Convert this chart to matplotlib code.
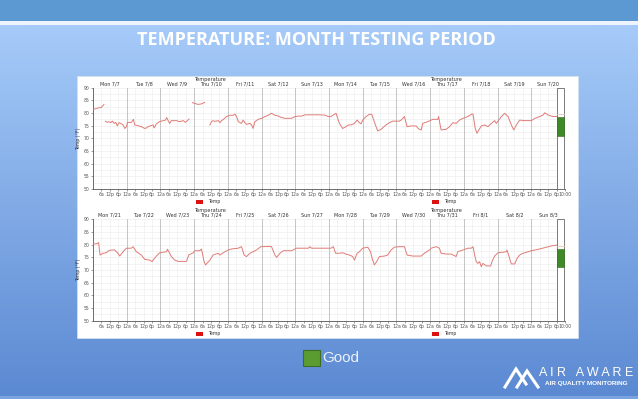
import numpy as np
import matplotlib
matplotlib.use("Agg")
import matplotlib.pyplot as plt
from matplotlib.patches import Rectangle
from matplotlib.lines import Line2D
from matplotlib.transforms import blended_transform_factory

W, H = 638, 399
nan = float("nan")

# ---------------- data ----------------
# hours since Monday 00:00 of first day in each panel; NaN marks a gap in the record
p1_hours = [0.0, 3.6, 5.9, 7.8, nan,
            8.8, 10.2, 11.2, 12.6, 13.8, 15.0, 16.2, 17.3, 18.5, 19.7, 21.4, 22.6, 23.8, 24.5,
            27.3, 28.8, 29.7, 32.1, 34.4, 36.8, 38.0, 39.2, 41.1, 42.8, 43.5, 45.1, 46.3, 47.5,
            49.9, 51.6, 52.5, 53.5, 54.6, 55.8, 59.4, 61.8, 64.2, 65.8, 67.2, 68.4, nan,
            70.8, 72.5, 74.8, 77.2, 79.6, nan,
            83.2, 84.3, 85.5, 86.7, 89.1, 90.3, 91.5, 92.9, 95.0, 97.4, 99.8, 101.0, 102.2,
            103.4, 105.7, 106.9, 108.1, 109.3, 111.7, 112.9, 114.0, 115.2, 117.6, 120.0, 122.4,
            124.7, 127.1, 129.5, 131.9, 134.2, 136.6, 141.4, 143.7, 146.1, 148.5, 150.9, 155.6,
            160.4, 165.1, 167.5, 169.4, 173.0, 175.4, 177.7, 180.1, 181.8, 183.7, 186.1, 188.0,
            189.6, 190.8, 192.0, 194.4, 196.8, 198.4, 201.5, 202.7, 205.1, 208.6, 211.0, 213.4,
            218.1, 219.3, 221.7, 223.6, 226.4, 230.0, 231.7, 233.6, 234.8, 238.3, 240.7, 241.9,
            245.5, 246.0, 247.8, 251.4, 253.8, 256.2, 258.5, 260.9, 263.3, 266.9, 269.3, 270.5,
            272.1, 273.3, 276.4, 278.8, 281.2, 282.4, 285.9, 287.1, 290.7, 293.1, 295.5, 297.8,
            299.5, 301.4, 303.7, 307.3, 312.1, 314.5, 318.0, 320.4, 321.6, 324.0, 327.6, 331.1]
p1_temp = [81.4, 82.0, 82.2, 83.4, nan,
           76.8, 76.3, 76.6, 76.2, 76.8, 75.9, 76.3, 74.9, 76.2, 75.9, 75.3, 73.9, 74.6, 76.3,
           76.3, 77.5, 75.3, 75.0, 74.6, 73.9, 74.1, 74.6, 75.0, 75.3, 74.1, 75.7, 76.2, 76.6,
           77.0, 77.2, 78.2, 77.0, 75.9, 77.0, 77.0, 76.6, 77.0, 76.3, 77.0, 77.6, nan,
           84.1, 83.8, 83.4, 83.6, 84.2, nan,
           75.3, 76.6, 77.0, 76.7, 77.0, 76.2, 77.0, 77.5, 78.6, 79.1, 79.1, 79.6, 78.6,
           76.6, 75.9, 77.2, 76.2, 75.5, 75.9, 75.3, 73.9, 76.6, 77.5, 77.9, 78.6,
           79.1, 79.9, 79.1, 78.8, 78.2, 77.9, 77.9, 78.6, 78.8, 78.8, 79.3, 79.3,
           79.3, 79.2, 78.6, 78.6, 79.9, 75.9, 73.9, 74.6, 75.3, 75.3, 75.9, 77.2,
           76.2, 75.7, 77.2, 78.6, 79.5, 79.5, 74.6, 72.9, 73.6, 75.3, 76.2, 76.8,
           76.8, 77.2, 78.6, 74.6, 74.9, 74.9, 73.8, 73.3, 75.9, 76.6, 77.2, 77.5,
           77.5, 78.6, 73.3, 73.6, 74.6, 76.2, 75.9, 77.2, 77.9, 78.6, 79.5, 79.6,
           73.9, 72.0, 74.9, 75.3, 74.6, 75.3, 77.0, 75.9, 78.6, 79.9, 78.6, 75.3,
           73.3, 75.3, 77.2, 77.0, 77.0, 77.9, 78.6, 79.2, 80.1, 79.2, 78.6, 78.6]

p2_hours = [0.0, 2.4, 4.0, 5.0, 7.1, 9.5, 11.2, 13.1, 15.4, 17.8, 19.0, 21.4, 23.8, 27.3,
            28.5, 30.9, 34.4, 36.8, 40.4, 42.1, 42.8, 45.1, 47.5, 52.3, 53.0, 55.8, 58.2,
            60.6, 66.5, 68.2, 71.3, 72.5, 76.0, 77.2, 79.1, 80.1, 83.2, 85.5, 89.1, 90.3,
            93.9, 96.2, 98.6, 103.4, 105.7, 107.6, 109.3, 111.7, 114.0, 116.4, 119.5, 125.9,
            127.1, 129.5, 130.7, 133.1, 135.4, 141.4, 143.3, 144.9, 153.3, 154.4, 155.6, 169.4,
            171.1, 172.7, 175.4, 177.7, 180.1, 182.5, 184.9, 186.1, 188.0, 189.6, 192.0, 195.6,
            197.5, 199.1, 200.3, 201.9, 203.9, 207.4, 209.8, 212.2, 214.6, 218.1, 221.7, 223.6,
            227.6, 233.6, 235.9, 239.5, 240.7, 244.3, 246.6, 247.8, 251.4, 255.0, 258.5, 259.7,
            263.3, 266.9, 269.3, 270.5, 271.7, 272.8, 274.0, 275.2, 276.4, 277.6, 280.0, 283.1,
            284.0, 285.9, 288.3, 294.2, 294.7, 296.6, 297.8, 300.2, 301.9, 303.7, 306.1, 309.7,
            312.1, 314.5, 318.0, 322.8, 326.4, 331.1]
p2_temp = [80.3, 80.3, 80.8, 75.9, 76.6, 76.8, 77.6, 77.9, 77.9, 76.6, 75.5, 77.2, 78.6, 78.6,
           79.2, 77.2, 75.9, 74.2, 73.9, 73.3, 73.9, 75.5, 76.8, 77.2, 78.2, 75.3, 73.9,
           73.4, 73.4, 75.9, 76.8, 77.6, 77.6, 78.3, 73.3, 72.0, 73.9, 75.9, 76.6, 75.9,
           77.2, 77.9, 78.3, 78.6, 79.2, 75.9, 75.3, 76.6, 77.2, 77.9, 79.2, 79.3,
           79.2, 75.9, 75.0, 76.6, 77.6, 77.6, 78.2, 78.6, 78.6, 79.2, 78.6, 78.6,
           79.2, 76.6, 76.6, 76.8, 76.3, 75.9, 75.3, 73.9, 76.6, 77.2, 78.6, 79.0,
           77.2, 73.9, 72.0, 73.3, 75.3, 75.5, 75.9, 77.9, 79.0, 79.2, 79.2, 75.9,
           75.5, 75.5, 76.6, 77.9, 78.6, 79.2, 78.6, 76.6, 76.3, 76.3, 75.3, 77.2,
           77.9, 78.6, 78.6, 79.2, 75.9, 73.3, 72.6, 73.3, 71.3, 72.6, 71.6, 71.6,
           73.3, 75.5, 76.8, 77.2, 77.9, 74.6, 72.4, 72.4, 74.6, 75.9, 76.6, 77.2,
           77.6, 77.9, 78.3, 79.0, 79.5, 79.9]

p1_days = ["Mon 7/7", "Tue 7/8", "Wed 7/9", "Thu 7/10", "Fri 7/11", "Sat 7/12", "Sun 7/13",
           "Mon 7/14", "Tue 7/15", "Wed 7/16", "Thu 7/17", "Fri 7/18", "Sat 7/19", "Sun 7/20"]
p2_days = ["Mon 7/21", "Tue 7/22", "Wed 7/23", "Thu 7/24", "Fri 7/25", "Sat 7/26", "Sun 7/27",
           "Mon 7/28", "Tue 7/29", "Wed 7/30", "Thu 7/31", "Fri 8/1", "Sat 8/2", "Sun 8/3"]
hour_labels = ["6a", "12p", "6p", "12a"]
end_label = "10:00"
y_ticks = [50, 55, 60, 65, 70, 75, 80, 85, 90]
p1_good = (70.9, 78.5)
p2_good = (71.3, 78.2)

title = "TEMPERATURE: MONTH TESTING PERIOD"
chart_title = "Temperature"
series_name = "Temp"
legend_name = "Good"

# ---------------- figure ----------------
fig = plt.figure(figsize=(W / 100, H / 100), dpi=100)


def fx(x):
    return x / W


def fy(y):
    return 1 - y / H


# slide background
bg = fig.add_axes([0, 0, 1, 1], zorder=-10)
bg.set_xlim(0, W)
bg.set_ylim(H, 0)
bg.axis("off")
top = np.array([0xa6, 0xcb, 0xf9]) / 255
bot = np.array([0x5b, 0x89, 0xd2]) / 255
t = np.linspace(0, 1, 256)[:, None]
grad = top[None, :] * (1 - t) + bot[None, :] * t
bg.imshow(grad[:, None, :], extent=[0, W, H, 25], aspect="auto")
bg.add_patch(Rectangle((0, 0), W, 21, color="#5c98d2", lw=0))
bg.add_patch(Rectangle((0, 21), W, 4, color="#eef4fb", lw=0))
bg.add_patch(Rectangle((0, 396), W, 3, color="#7aa3df", lw=0))
bg.add_patch(Rectangle((77, 76), 501, 262, facecolor="white", edgecolor="#d8e2ee", lw=0.5))

fig.text(fx(316), fy(40), title, color="white", fontsize=13, fontweight="bold",
         family="Open Sans", ha="center", va="center")

# "Good" legend
bg.add_patch(Rectangle((303, 350), 17, 16, facecolor="#5b9c31", edgecolor="#3d6e22", lw=0.8))
fig.text(fx(322), fy(357.5), legend_name, color="#eef2f8", fontsize=11,
         family="Liberation Sans", ha="left", va="center")

# logo
bg.add_line(Line2D([505, 516, 526], [387, 369, 384], color="white", lw=2.2,
                   solid_joinstyle="miter"))
bg.add_line(Line2D([517, 527, 538], [387, 371, 387], color="white", lw=2.2,
                   solid_joinstyle="miter"))
fig.text(fx(586), fy(373.5), "A I R   A W A R E", color="white", fontsize=9,
         family="Liberation Sans", ha="center", va="center")
fig.text(fx(586), fy(383.5), "AIR QUALITY MONITORING", color="white", fontsize=4.6,
         family="Liberation Sans", fontweight="bold", ha="center", va="center")


def draw_panel(y_top, y_bot, hours, temps, days, good, title_y, legend_y):
    ax = fig.add_axes([fx(93), fy(y_bot), (565 - 93) / W, (y_bot - y_top) / H])
    ax.set_facecolor("white")
    ax.set_xlim(0, 336)
    ax.set_ylim(50, 90)
    for s in ["top", "right"]:
        ax.spines[s].set_visible(False)
    for s in ["left", "bottom"]:
        ax.spines[s].set_color("#555555")
        ax.spines[s].set_linewidth(0.6)
    # grid
    for h in range(6, 336, 6):
        if h % 24 == 0:
            ax.axvline(h, color="#bbbbbb", lw=0.6, zorder=1)
        else:
            ax.axvline(h, color="#efefef", lw=0.5, zorder=0)
    for v in np.arange(52.5, 90.1, 2.5):
        ax.axhline(v, color="#efefef", lw=0.5, zorder=0)
    ax.plot(hours, temps, color="#e07b76", lw=0.7, zorder=3)
    # ticks
    xt = list(range(6, 331, 6)) + [336]
    xl = [hour_labels[(i) % 4] for i in range(len(xt) - 1)] + [end_label]
    ax.set_xticks(xt)
    ax.set_xticklabels(xl, fontsize=3.3, color="#333333")
    ax.set_yticks(y_ticks)
    ax.set_yticklabels([str(v) for v in y_ticks], fontsize=3.3, color="#333333")
    ax.tick_params(length=1.5, width=0.4, pad=1, colors="#555555")
    ax.set_ylabel("Temp (°F)", fontsize=3.3, labelpad=2, color="#333333")
    # day labels
    trans = blended_transform_factory(ax.transData, ax.transAxes)
    for i, d in enumerate(days):
        ax.text(i * 24 + 12, 1.015, d, transform=trans, fontsize=3.5, color="#333333",
                ha="center", va="bottom")
    # gauge
    gtr = blended_transform_factory(ax.transAxes, ax.transData)
    x0, x1 = (557 - 93) / 472, (564 - 93) / 472
    ax.add_patch(Rectangle((x0, 50), x1 - x0, 40, transform=gtr, facecolor="white",
                           edgecolor="#666666", lw=0.6, zorder=5, clip_on=False))
    ax.add_patch(Rectangle((x0, good[0]), x1 - x0, good[1] - good[0], transform=gtr,
                           facecolor="#3f8a27", edgecolor="#2f6a1c", lw=0.4, zorder=6,
                           clip_on=False))
    ax.add_line(Line2D([x0, x1], [good[1] + 1.2, good[1] + 1.2], transform=gtr,
                       color="#d9c9b0", lw=0.6, zorder=6))
    # chart titles and legends (two concatenated charts)
    for cx in (210, 446):
        fig.text(fx(cx), fy(title_y), chart_title, fontsize=3.6, color="#333333",
                 ha="center", va="center")
    for lx in (196, 432):
        fig.patches.append(Rectangle((fx(lx), fy(legend_y + 2)), 7 / W, 4 / H,
                                     transform=fig.transFigure, facecolor="#dd1111",
                                     edgecolor="none"))
        fig.text(fx(lx + 12), fy(legend_y), series_name, fontsize=3.3, color="#333333",
                 ha="left", va="center")
    return ax


draw_panel(87.7, 189.0, p1_hours, p1_temp, p1_days, p1_good, 79, 202)
draw_panel(219.3, 320.7, p2_hours, p2_temp, p2_days, p2_good, 210.5, 333.5)

fig.savefig("out.png", dpi=100)
